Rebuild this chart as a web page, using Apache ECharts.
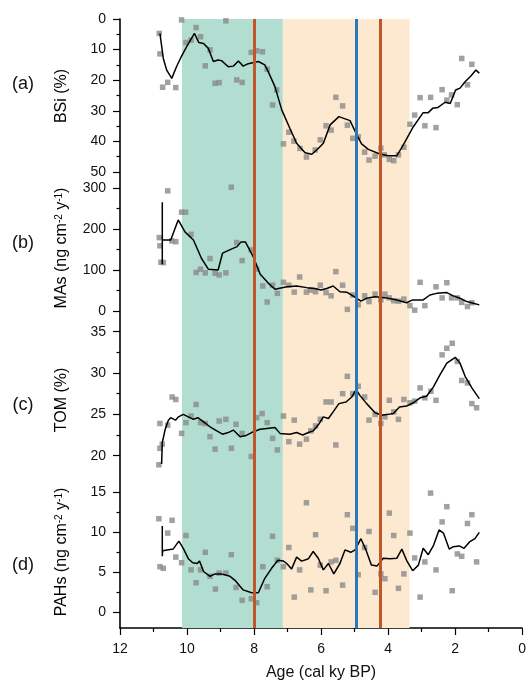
<!DOCTYPE html>
<html><head><meta charset="utf-8">
<script src="https://cdn.jsdelivr.net/npm/echarts@6/dist/echarts.min.js"></script>
<style>html,body{margin:0;padding:0;background:#fff}#c{width:529px;height:686px}</style>
</head><body><div id="c"></div>
<script>
// ---------- DATA (age in cal ky BP, value) ----------
var bsiPoints = [[10.84,4.7],[10.82,11.4],[10.74,22.3],[10.59,20.7],[10.35,22.4],[10.18,0.3],[10.05,7.7],[9.90,6.9],[9.75,2.8],[9.62,5.8],[9.48,15.3],[9.34,10.1],[9.19,21],[9.07,20.8],[8.87,0.6],[8.55,19.9],[8.39,20.7],[8.12,10.9],[7.96,10.4],[7.79,10.7],[7.65,16.4],[7.49,28.1],[7.37,23.2],[7.17,40.8],[7.01,37],[6.86,39.9],[6.68,42.3],[6.49,45.1],[6.23,42.8],[6.08,39.5],[5.91,34.9],[5.76,36.3],[5.62,25.6],[5.42,28.4],[5.28,34.7],[5.12,39],[4.96,38.5],[4.77,43.5],[4.64,46.1],[4.46,44.8],[4.29,42.2],[4.19,44.4],[4.04,45.9],[3.91,46.3],[3.77,44.4],[3.61,41.9],[3.43,34.4],[3.29,31.4],[3.13,25.7],[2.99,34.9],[2.82,25.6],[2.66,35.5],[2.48,23.1],[2.34,26.5],[2.20,24.8],[2.03,28],[1.90,12.9],[1.73,21.5],[1.60,14.8]];
var bsiSmooth = [[10.82,4.7],[10.72,12.9],[10.62,16.7],[10.47,19.4],[10.33,15.6],[10.18,12.1],[10.03,9.0],[9.80,4.7],[9.67,7.7],[9.53,8.0],[9.39,9.6],[9.24,13.9],[9.10,13.4],[9.00,13.6],[8.80,15.6],[8.65,15.4],[8.50,13.7],[8.36,15.4],[8.21,14.6],[7.91,13.9],[7.72,15.0],[7.62,17.2],[7.42,22.1],[7.22,29.7],[6.98,35.7],[6.78,40.6],[6.53,43.7],[6.33,44.2],[6.14,42.3],[5.99,40.6],[5.79,34.6],[5.53,31.9],[5.20,33.2],[5.00,37.9],[4.86,40.8],[4.66,42.6],[4.32,44.1],[4.07,44.7],[3.82,44.7],[3.63,41.2],[3.33,35.2],[3.04,30.6],[2.89,30.6],[2.76,29.2],[2.60,28.9],[2.39,27.2],[2.24,27.6],[2.08,23.2],[1.95,22.6],[1.80,20.5],[1.63,18.6],[1.48,16.7],[1.38,17.7]];

var masPoints = [[10.84,179],[10.82,159],[10.79,119],[10.72,118],[10.59,293],[10.47,171],[10.35,169],[10.18,241],[10.06,241],[9.90,187],[9.75,94],[9.62,102],[9.48,93],[9.34,128],[9.19,92],[9.07,88],[8.87,93],[8.71,302],[8.55,167],[8.39,123],[8.12,149],[7.96,102],[7.78,61],[7.65,22],[7.49,63],[7.35,43],[7.17,70],[7.01,63],[6.85,46],[6.69,83],[6.49,46],[6.36,51],[6.22,47],[6.08,63],[5.91,45],[5.76,37],[5.62,96],[5.42,63],[5.28,4],[5.12,39],[4.96,15],[4.77,37],[4.64,23],[4.46,41],[4.29,27],[4.17,41],[4.04,32],[3.91,25],[3.77,24],[3.61,29],[3.43,13],[3.29,2],[3.13,70],[2.99,13],[2.66,59],[2.48,32],[2.34,69],[2.20,32],[2.03,32],[1.90,21],[1.73,11],[1.60,20]];
var masSmooth = [[10.75,265],[10.75,114],[10.75,173],[10.50,173],[10.28,222],[10.08,193],[9.83,173],[9.59,128],[9.39,102],[9.10,100],[8.97,141],[8.71,151],[8.54,157],[8.43,168],[8.29,168],[8.06,132],[7.86,90],[7.62,68],[7.42,53],[7.07,59],[6.78,61],[6.48,57],[6.24,55],[6.06,51],[5.89,55],[5.70,61],[5.50,47],[5.30,46],[5.08,35],[4.88,24],[4.71,31],[4.46,35],[4.12,32],[3.82,27],[3.53,20],[3.35,27],[3.04,27],[2.84,39],[2.64,43],[2.34,45],[2.15,37],[1.95,31],[1.75,23],[1.56,19],[1.38,15]];

var tomPoints = [[10.85,18.9],[10.82,20.9],[10.75,21.4],[10.82,23.9],[10.59,23.7],[10.46,27.1],[10.35,26.8],[10.18,22.7],[10.05,24.0],[9.90,24.8],[9.75,26.2],[9.62,24.0],[9.48,23.9],[9.34,22.3],[9.19,20.8],[9.07,24.2],[8.87,24.4],[8.71,20.9],[8.57,23.8],[8.39,22.7],[8.12,19.9],[7.96,24.6],[7.80,25.1],[7.65,24.0],[7.49,22.1],[7.35,20.7],[7.17,24.8],[7.01,21.7],[6.85,24.3],[6.69,21.4],[6.49,22.0],[6.36,23.0],[6.22,23.6],[6.08,24.4],[5.91,26.5],[5.76,26.5],[5.62,21.3],[5.42,27.5],[5.28,29.6],[5.12,27.5],[4.96,28.4],[4.77,27.1],[4.64,24.3],[4.46,25.0],[4.29,23.9],[4.17,24.7],[4.04,26.7],[3.91,25.3],[3.77,24.4],[3.61,26.8],[3.43,26.4],[3.29,26.6],[3.13,28.2],[2.99,27.0],[2.81,27.8],[2.66,26.7],[2.48,32.2],[2.34,33.0],[2.18,33.6],[2.03,31.4],[1.90,29.1],[1.73,28.8],[1.60,26.3],[1.46,25.8]];
var tomSmooth = [[10.77,19.0],[10.75,21.6],[10.67,23.1],[10.57,24.3],[10.50,24.6],[10.36,24.3],[10.27,24.7],[10.13,25.0],[9.98,24.7],[9.83,24.4],[9.70,24.6],[9.53,24.1],[9.34,23.5],[9.14,23.0],[8.97,22.6],[8.80,22.8],[8.65,23.1],[8.45,22.3],[8.30,22.4],[8.11,22.8],[7.86,23.2],[7.66,23.3],[7.42,23.4],[7.27,22.7],[6.98,22.6],[6.78,22.8],[6.60,22.5],[6.43,22.8],[6.29,23.0],[6.11,23.9],[5.99,24.7],[5.84,24.5],[5.70,25.3],[5.53,26.3],[5.32,26.5],[5.15,27.1],[5.02,28.0],[4.91,27.3],[4.71,26.3],[4.46,25.2],[4.26,24.9],[4.07,25.0],[3.92,25.1],[3.74,25.9],[3.53,26.0],[3.33,26.4],[3.13,27.0],[2.94,27.2],[2.74,28.3],[2.54,29.8],[2.34,31.2],[2.09,31.9],[1.95,31.2],[1.80,29.6],[1.60,28.2],[1.38,26.9]];

var pahPoints = [[10.85,11.7],[10.82,5.7],[10.72,5.5],[10.59,9.9],[10.46,11.5],[10.35,6.9],[10.18,6.2],[10.05,9.6],[9.90,5.3],[9.75,3.7],[9.62,5.3],[9.48,7.5],[9.34,4.5],[9.18,2.9],[9.07,4.9],[8.87,4.9],[8.71,7.2],[8.57,3.1],[8.39,1.5],[8.12,1.7],[7.96,1.2],[7.78,5.7],[7.65,3.2],[7.49,9.5],[7.35,6.5],[7.17,5.7],[7.01,8.1],[6.85,1.9],[6.69,5.3],[6.49,13.7],[6.36,2.8],[6.22,9.7],[6.08,5.9],[5.91,2.7],[5.76,6.3],[5.62,6.5],[5.42,3.4],[5.28,12.2],[5.12,10.5],[4.96,4.7],[4.77,8.1],[4.64,10.1],[4.46,2.5],[4.29,4.8],[4.17,4.2],[4.04,12.4],[3.91,9.6],[3.77,3.0],[3.61,4.8],[3.43,9.9],[3.29,6.8],[3.13,1.9],[2.99,6.3],[2.82,14.9],[2.66,5.3],[2.48,11.3],[2.34,13.2],[2.18,2.7],[2.03,7.3],[1.90,7.0],[1.73,11.1],[1.60,12.2],[1.46,6.3]];
var pahSmooth = [[10.75,10.8],[10.75,7.0],[10.74,7.7],[10.43,7.9],[10.26,8.9],[10.13,8.0],[9.98,6.7],[9.85,6.2],[9.72,6.1],[9.65,6.4],[9.53,5.1],[9.34,4.5],[9.19,4.8],[9.00,4.8],[8.75,4.5],[8.60,4.0],[8.36,2.8],[8.11,2.45],[7.91,2.45],[7.72,4.25],[7.52,5.5],[7.33,6.5],[7.17,6.4],[7.07,6.1],[6.93,5.4],[6.78,6.9],[6.63,6.4],[6.43,6.7],[6.29,7.6],[6.14,6.75],[5.99,5.3],[5.84,6.1],[5.68,4.8],[5.50,6.1],[5.35,7.8],[5.18,7.5],[5.05,7.8],[4.88,9.2],[4.73,7.8],[4.57,5.9],[4.40,5.8],[4.22,6.75],[4.02,6.7],[3.82,6.75],[3.67,7.9],[3.53,6.5],[3.35,5.2],[3.18,5.9],[3.04,8.0],[2.89,7.2],[2.74,8.3],[2.57,10.3],[2.44,9.9],[2.27,7.9],[2.15,8.2],[1.97,8.3],[1.83,8.0],[1.67,8.8],[1.51,9.2],[1.38,10.0]];

var zones = [[10.15, 7.14, '#b2ded1'], [7.14, 3.36, '#fde9d0']];
var events = [[8.0, '#c1562b'], [4.95, '#2b78b8'], [4.22, '#c1562b']];

var xTicks = {min: 0, max: 12, interval: 2};
var panelNames = ['(a)', '(b)', '(c)', '(d)'];

// ---------- CHART ----------
var FONT = 'Liberation Sans, Arial, sans-serif';
var chart = echarts.init(document.getElementById('c'), null, {renderer: 'canvas'});

var L = 120, R = 3;
var grids = [
  {left: L, right: R, top: 19, height: 609},       // background / x axis
  {left: L, right: R, top: 19, height: 153},       // a
  {left: L, right: R, top: 188, height: 123},      // b
  {left: L, right: R, top: 331.7, height: 124},    // c
  {left: L, right: R, top: 492.3, height: 120}     // d
];

var xAxes = grids.map(function (g, i) {
  var base = {gridIndex: i, type: 'value', inverse: true, min: xTicks.min, max: xTicks.max, interval: xTicks.interval};
  if (i === 0) {
    return Object.assign(base, {
      show: true, position: 'bottom',
      name: 'Age (cal ky BP)', nameLocation: 'middle', nameGap: 37,
      nameTextStyle: {fontFamily: FONT, fontSize: 16, color: '#111'},
      axisLine: {show: true, onZero: false, lineStyle: {color: '#000', width: 1.6}},
      axisTick: {show: true, length: 7, lineStyle: {color: '#000', width: 1.2}},
      minorTick: {show: true, splitNumber: 2, length: 4, lineStyle: {color: '#000', width: 1.2}},
      axisLabel: {fontFamily: FONT, fontSize: 14, color: '#111', margin: 14},
      splitLine: {show: false}
    });
  }
  return Object.assign(base, {show: false});
});

function yAx(i, min, max, interval, inverse) {
  return {
    gridIndex: i, type: 'value', position: 'left', min: min, max: max, interval: interval, inverse: !!inverse,
    axisLine: {show: false, onZero: false},
    axisTick: {show: true, inside: false, length: 7, lineStyle: {color: '#000', width: 1.2}},
    minorTick: {show: true, splitNumber: 2, length: 3.5, lineStyle: {color: '#000', width: 1.2}},
    axisLabel: {fontFamily: FONT, fontSize: 14, color: '#111', margin: 14, showMinLabel: true, showMaxLabel: true},
    splitLine: {show: false}
  };
}
var yAxes = [
  {gridIndex: 0, type: 'value', position: 'left', min: 0, max: 1,
   axisLine: {show: true, onZero: false, lineStyle: {color: '#000', width: 1.6}},
   axisTick: {show: false}, axisLabel: {show: false}, splitLine: {show: false}},
  yAx(1, 0, 50, 10, true),
  yAx(2, 0, 300, 100),
  yAx(3, 20, 35, 5),
  yAx(4, 0, 15, 5)
];

var series = [{
  type: 'line', xAxisIndex: 0, yAxisIndex: 0, data: [], z: 1, silent: true,
  markArea: {silent: true, data: zones.map(function (z) {
    return [{xAxis: z[0], itemStyle: {color: z[2]}}, {xAxis: z[1]}];
  })},
  markLine: {silent: true, symbol: 'none', label: {show: false},
    data: events.map(function (e) { return {xAxis: e[0], lineStyle: {color: e[1], width: 3, type: 'solid'}}; })}
}];

[bsiPoints, masPoints, tomPoints, pahPoints].forEach(function (pts, k) {
  series.push({type: 'scatter', xAxisIndex: k + 1, yAxisIndex: k + 1, data: pts, clip: false, z: 3,
    symbol: 'rect', symbolSize: 5.5, itemStyle: {color: '#8a8a8a'}});
});
[bsiSmooth, masSmooth, tomSmooth, pahSmooth].forEach(function (pts, k) {
  series.push({type: 'line', xAxisIndex: k + 1, yAxisIndex: k + 1, data: pts, clip: false, z: 4,
    showSymbol: false, lineStyle: {color: '#000', width: 1.5}});
});

var rich = {
  n: {fontFamily: FONT, fontSize: 16, color: '#111'},
  s: {fontFamily: FONT, fontSize: 10, color: '#111', verticalAlign: 'top'}
};
function vText(txt, y) {
  return {type: 'text', x: 62, y: y, rotation: Math.PI / 2,
    style: {text: txt, rich: rich, align: 'center', verticalAlign: 'middle'}};
}
var labelY = [84, 243, 405, 565];
var graphics = panelNames.map(function (t, i) {
  return {type: 'text', x: 23, y: labelY[i],
    style: {text: t, fontFamily: FONT, fontSize: 18, fill: '#111', align: 'center', verticalAlign: 'middle'}};
});
graphics.push(vText('{n|BSi (%)}', 96));
graphics.push(vText('{n|MAs (ng cm}{s|-2}{n| y}{s|-1}{n|)}', 248));
graphics.push(vText('{n|TOM (%)}', 400));
graphics.push(vText('{n|PAHs (ng cm}{s|-2}{n| y}{s|-1}{n|)}', 552));

chart.setOption({
  animation: false,
  backgroundColor: '#fff',
  grid: grids,
  xAxis: xAxes,
  yAxis: yAxes,
  series: series,
  graphic: graphics
});
</script>
</body></html>
